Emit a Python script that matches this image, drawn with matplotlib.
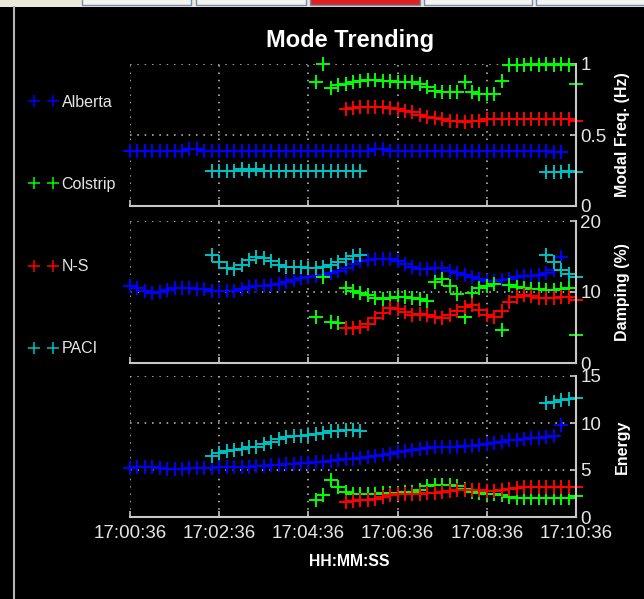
import numpy as np
import matplotlib
matplotlib.use("Agg")
import matplotlib.pyplot as plt
from matplotlib.lines import Line2D
from matplotlib.patches import Rectangle

plt.rcParams['font.family'] = ['Liberation Sans', 'DejaVu Sans']

W, H = 644, 599

# samples every 10 s starting at 17:00:36
times = np.arange(0, 610, 10)
tick_seconds = [0, 120, 240, 360, 480, 600]
tick_labels = ["17:00:36", "17:02:36", "17:04:36", "17:06:36", "17:08:36", "17:10:36"]

series_names = ["Alberta", "Colstrip", "N-S", "PACI"]
series_colors = ["#0000FF", "#00FF00", "#FF0000", "#00C0C0"]
series_starts = [0, 25, 29, 11]   # first sample index of each series

# Modal frequency (Hz)
alberta_freq = [0.39, 0.39, 0.39, 0.39, 0.39, 0.39, 0.39, 0.39, 0.40, 0.40,
                0.39, 0.39, 0.39, 0.39, 0.39, 0.39, 0.39, 0.39, 0.39, 0.39,
                0.39, 0.39, 0.39, 0.39, 0.39, 0.39, 0.39, 0.39, 0.39, 0.39,
                0.39, 0.39, 0.39, 0.40, 0.40, 0.39, 0.39, 0.39, 0.39, 0.39,
                0.39, 0.39, 0.39, 0.39, 0.39, 0.39, 0.39, 0.39, 0.39, 0.39,
                0.39, 0.39, 0.39, 0.39, 0.39, 0.39, 0.39, 0.38, 0.38]
colstrip_freq = [0.87, 1.00, 0.83, 0.85, 0.86, 0.87, 0.88, 0.89, 0.89, 0.88,
                 0.88, 0.87, 0.87, 0.87, 0.86, 0.84, 0.81, 0.80, 0.80, 0.80,
                 0.87, 0.80, 0.79, 0.79, 0.79, 0.88, 0.99, 0.99, 0.99, 1.00,
                 0.99, 1.00, 0.99, 1.00, 0.99, 0.86]
ns_freq = [0.68, 0.69, 0.70, 0.70, 0.70, 0.70, 0.69, 0.68, 0.67, 0.66,
           0.64, 0.63, 0.62, 0.61, 0.60, 0.60, 0.59, 0.60, 0.60, 0.61,
           0.61, 0.61, 0.61, 0.61, 0.61, 0.61, 0.61, 0.61, 0.61, 0.61,
           0.61, 0.60]
paci_freq = ([0.25, 0.25, 0.25, 0.25, 0.26, 0.25, 0.26, 0.25, 0.25, 0.25,
              0.25, 0.25, 0.25, 0.25, 0.25, 0.25, 0.25, 0.25, 0.25, 0.25, 0.25]
             + [None] * 24 + [0.24, 0.24, 0.24, 0.25, 0.24])

# Damping (%)
alberta_damp = [10.8, 10.6, 10.1, 9.9, 10.0, 10.3, 10.6, 10.6, 10.5, 10.4,
                10.4, 10.2, 10.1, 10.1, 10.1, 10.4, 10.7, 10.8, 10.9, 11.0,
                11.1, 11.4, 11.7, 12.0, 12.1, 12.2, 12.4, 12.7, 13.0, 13.4,
                14.0, 14.3, 14.5, 14.6, 14.6, 14.6, 14.3, 13.9, 13.5, 13.2,
                13.3, 13.4, 13.4, 13.0, 12.7, 12.4, 12.1, 11.8, 11.5, 11.5,
                11.7, 11.9, 12.1, 12.2, 12.3, 12.4, 12.7, 13.1, 14.9]
colstrip_damp = [6.5, 12.1, 5.8, 5.7, 10.6, 10.2, 9.9, 9.6, 9.2, 9.0,
                 9.1, 9.3, 9.3, 9.2, 9.0, 8.8, 11.4, 11.8, 10.8, 9.7,
                 6.5, 9.8, 10.6, 10.9, 11.1, 4.6, 11.0, 10.7, 10.5, 10.4,
                 10.4, 10.3, 10.3, 10.4, 10.5, 3.9]
ns_damp = [4.9, 5.0, 5.1, 5.5, 6.4, 7.1, 7.7, 7.6, 7.2, 6.7,
           6.9, 6.8, 6.5, 6.3, 6.7, 7.3, 7.9, 8.2, 7.5, 6.8,
           6.5, 7.3, 8.6, 9.3, 9.6, 9.5, 9.2, 9.2, 9.2, 9.3,
           9.3, 8.9]
paci_damp = ([15.2, 14.2, 13.4, 13.2, 13.8, 14.5, 14.9, 14.8, 14.3, 13.8,
              13.5, 13.5, 13.5, 13.4, 13.4, 13.5, 13.8, 14.2, 14.6, 15.1, 15.2]
             + [None] * 24 + [15.2, 14.2, 13.1, 12.6, 12.1])

# Energy
alberta_energy = [5.2, 5.3, 5.3, 5.3, 5.2, 5.1, 5.1, 5.1, 5.2, 5.2,
                  5.2, 5.2, 5.3, 5.3, 5.3, 5.3, 5.3, 5.4, 5.4, 5.5,
                  5.5, 5.6, 5.6, 5.7, 5.7, 5.8, 5.9, 6.0, 6.1, 6.2,
                  6.2, 6.3, 6.4, 6.5, 6.6, 6.7, 6.9, 7.0, 7.1, 7.2,
                  7.3, 7.4, 7.4, 7.5, 7.5, 7.6, 7.6, 7.7, 7.8, 7.9,
                  8.0, 8.2, 8.2, 8.3, 8.4, 8.4, 8.5, 8.6, 9.8]
colstrip_energy = [1.8, 2.3, 3.9, 3.2, 2.7, 2.4, 2.4, 2.5, 2.5, 2.6,
                   2.6, 2.6, 2.7, 2.7, 2.9, 3.3, 3.4, 3.4, 3.4, 3.3,
                   3.0, 2.7, 2.6, 2.5, 2.5, 2.3, 2.1, 2.0, 2.0, 2.0,
                   2.0, 2.0, 2.0, 2.0, 2.0, 2.2]
ns_energy = [1.6, 1.7, 1.8, 1.8, 1.9, 2.1, 2.3, 2.4, 2.5, 2.5,
             2.5, 2.6, 2.6, 2.7, 2.8, 2.9, 2.9, 2.9, 2.9, 2.8,
             2.8, 2.9, 3.0, 3.1, 3.2, 3.2, 3.2, 3.2, 3.2, 3.2,
             3.2, 3.2]
paci_energy = ([6.5, 6.8, 7.0, 7.1, 7.2, 7.4, 7.5, 7.8, 8.0, 8.3,
                8.5, 8.6, 8.6, 8.7, 8.8, 8.9, 9.1, 9.2, 9.3, 9.3, 9.2]
               + [None] * 24 + [12.1, 12.2, 12.4, 12.6, 12.7])

panels = [
    ("Modal Freq. (Hz)", [alberta_freq, colstrip_freq, ns_freq, paci_freq],
     [0, 0.5, 1], ["0", "0.5", "1"]),
    ("Damping (%)", [alberta_damp, colstrip_damp, ns_damp, paci_damp],
     [0, 10, 20], ["0", "10", "20"]),
    ("Energy", [alberta_energy, colstrip_energy, ns_energy, paci_energy],
     [0, 5, 10, 15], ["0", "5", "10", "15"]),
]

fg = "#E6E6E6"
axis_col = "#C8C8C8"

fig = plt.figure(figsize=(W / 100, H / 100), dpi=100, facecolor="black")

# axes boxes in pixels: (top, bottom)
boxes = [(64, 206), (221, 363), (376, 517)]
left_px, right_px = 130, 576

for (ylabel, values, yticks, ylabels), (top, bot) in zip(panels, boxes):
    ax = fig.add_axes([left_px / W, 1 - bot / H, (right_px - left_px) / W, (bot - top) / H])
    ax.set_facecolor("black")
    for vals, start, col in zip(values, series_starts, series_colors):
        y = np.array([np.nan if v is None else v for v in vals], dtype=float)
        x = times[start:start + len(y)]
        ax.plot(x, y, linestyle="none", marker="+", markersize=9.5, mew=1.4,
                color=col, clip_on=False, zorder=2)
    ax.set_xlim(0, 600)
    ax.set_ylim(yticks[0], yticks[-1])
    ax.set_xticks(tick_seconds)
    ax.set_yticks(yticks)
    ax.set_yticklabels(ylabels)
    ax.yaxis.tick_right()
    ax.tick_params(axis="both", direction="in", length=4, width=1.2, color=axis_col,
                   labelcolor=fg, labelsize=13.5)
    ax.tick_params(axis="y", pad=3, right=True, left=False)
    ax.tick_params(axis="x", pad=6)
    if bot == boxes[-1][1]:
        ax.set_xticklabels(tick_labels)
    else:
        ax.set_xticklabels([])
    for side in ["top", "left"]:
        ax.spines[side].set_visible(False)
    for side in ["right", "bottom"]:
        ax.spines[side].set_color(axis_col)
        ax.spines[side].set_linewidth(1.5)
        ax.spines[side].set_zorder(5)
    ax.grid(True, color=axis_col, linestyle=(0, (1, 3.8)), linewidth=1.1)
    ax.set_axisbelow(True)
    fig.text(622 / W, 1 - (top + bot) / 2 / H, ylabel, rotation=90, ha="center", va="center",
             fontsize=11.5, fontweight="bold", color="white")

fig.text(350 / W, 1 - 40 / H, "Mode Trending", ha="center", va="center",
         fontsize=17, fontweight="bold", color="white")
fig.text(349 / W, 1 - 561 / H, "HH:MM:SS", ha="center", va="center",
         fontsize=11.3, fontweight="bold", color="white")

# legend on the left
handles = [Line2D([], [], linestyle="none", marker="+", markersize=9, mew=1.1, color=c)
           for c in series_colors]
fig.legend(handles, series_names, loc="upper left", bbox_to_anchor=(29 / W, 1 - 95 / H),
           frameon=False, borderpad=0, borderaxespad=0, numpoints=2, handlelength=1.79,
           handletextpad=0.26, labelspacing=4.2, fontsize=11.5, labelcolor=fg)

# window chrome: tab strip and left divider
def px_rect(x0, y0, w, h, **kw):
    fig.patches.append(Rectangle((x0 / W, 1 - (y0 + h) / H), w / W, h / H,
                                 transform=fig.transFigure, **kw))

px_rect(0, 0, W, 7, facecolor="#ECE9D8", edgecolor="none")
for x0, x1 in [(82, 191), (196, 306), (310, 420), (424, 532), (536, 650)]:
    face = "#E02020" if x0 == 310 else "#F4F3EE"
    px_rect(x0, -3, x1 - x0, 8, facecolor=face, edgecolor="#6F8FB4", linewidth=1)
fig.add_artist(Line2D([13.5 / W, 13.5 / W], [0, 1 - 7 / H], color="#B4B4B4",
                      linewidth=1.5, transform=fig.transFigure))

fig.savefig("out.png", dpi=100, facecolor="black")
